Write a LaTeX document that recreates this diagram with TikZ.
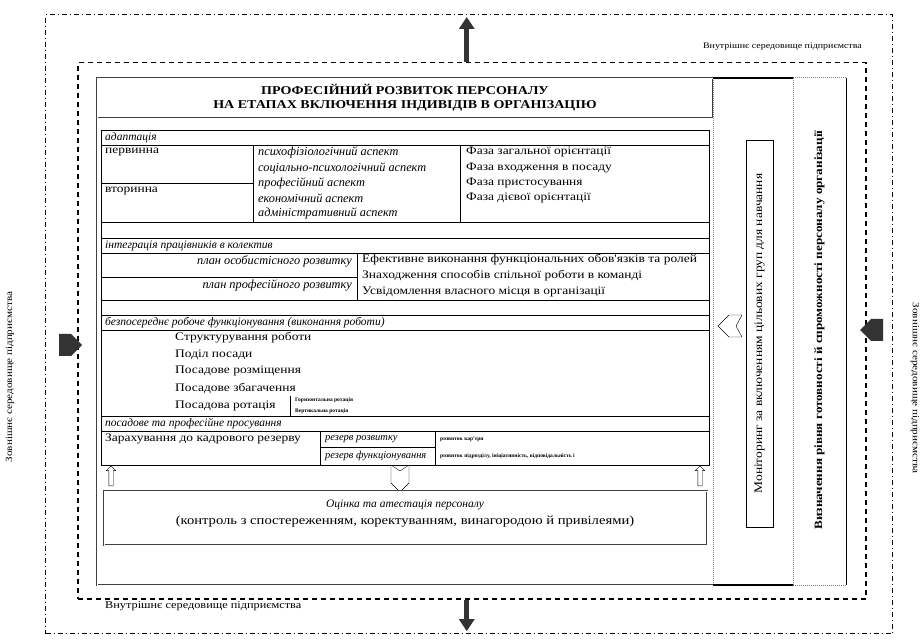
\documentclass[tikz,border=0pt]{standalone}
\usepackage{fontspec}
\setmainfont{Liberation Serif}
\newfontfamily\wide{Liberation Serif}[FakeStretch=1.17]
\usetikzlibrary{arrows.meta,shapes.arrows,shapes.symbols,positioning}

\begin{document}
\begin{tikzpicture}[x=1pt,y=-1pt,
  txt/.style={anchor=west,inner sep=0pt,font=\wide\fontsize{11.5}{14}\selectfont},
  hdr/.style={anchor=west,inner sep=0pt,font=\fontsize{11.5}{14}\selectfont\itshape},
  cellit/.style={hdr,font=\fontsize{12.3}{14}\selectfont\itshape},
  tiny/.style={anchor=west,inner sep=0pt,font=\fontsize{5.5}{7}\selectfont\bfseries},
  lbl/.style={inner sep=0pt,font=\wide\fontsize{9.5}{12}\selectfont},
  frame/.style={draw=black!75,double,double distance=0.9pt,line width=0.5pt},
  bigarr/.style={draw=black!80,line width=5pt,-{Triangle[width=15pt,length=12pt]},shorten >=3pt},
  block/.style={signal,fill=black!80,minimum width=23pt,minimum height=22pt,inner sep=0pt},
  hollow/.style={single arrow,draw,fill=white,shape border rotate=90,minimum height=20pt,
    single arrow head extend=2.5pt,inner sep=2pt},
  notch/.style={draw,fill=white}]
  \useasboundingbox (0,0) rectangle (924,644);

  \node[draw,line width=1.2pt,dash pattern=on 5pt off 3pt on 1pt off 3pt,minimum width=847pt,minimum height=619pt,anchor=north west] at (45,14) (outer) {};
  \node[draw,line width=1.5pt,dash pattern=on 5pt off 4pt,minimum width=788pt,minimum height=536pt,anchor=north west] at (77,62) (inner) {};
  \node[lbl,anchor=east,font=\wide\fontsize{8.5}{10}\selectfont] at (862,47) (tin) {Внутрішнє середовище підприємства};
  \node[lbl,anchor=west,font=\wide\fontsize{10.5}{12}\selectfont] at (105,606) (bin) {Внутрішнє середовище підприємства};
  \node[lbl,rotate=90] at (10,377) (lout) {Зовнішнє середовище підприємства};
  \node[lbl,rotate=-90] at (915,388) (rout) {Зовнішнє середовище підприємства};
  \draw[bigarr] ([xshift=-5pt]inner.north) -- ([xshift=-5pt]inner.north |- outer.north);
  \draw[bigarr] ([xshift=-5pt]inner.south) -- ([xshift=-5pt]inner.south |- outer.south);
  \node[block,signal to=east] at (65,345) (larr) {};
  \node[block,signal to=west] at (877,330) (rarr) {};

  \draw[frame] (713,78) -- (97,78) -- (97,585) -- (713,585);
  \node[frame,minimum width=616pt,minimum height=40pt,align=center,font=\wide\fontsize{12}{14}\selectfont\bfseries] at (405,98) (title) {ПРОФЕСІЙНИЙ РОЗВИТОК ПЕРСОНАЛУ\\НА ЕТАПАХ ВКЛЮЧЕННЯ ІНДИВІДІВ В ОРГАНІЗАЦІЮ};

  \node[draw,minimum width=608pt,minimum height=335pt,anchor=north west] at (101,130) (tab) {};
  \foreach \y in {145,222,238,253,300,315,330,416,431}
    \draw (101,\y) -- (709,\y);
  \draw (101,183) -- (253,183);
  \draw (253,145) -- (253,222) (460,145) -- (460,222);
  \draw (101,277) -- (357,277) (357,253) -- (357,300);
  \draw (290,396) -- (290,416);
  \draw (320,431) -- (320,465) (435,431) -- (435,465) (320,447) -- (435,447);

  \node[hdr] at (105,137.5) (ad) {адаптація};
  \node[txt] at (105,152) (pv) {первинна};
  \node[txt] at (105,191) (vt) {вторинна};
  \node[cellit] at (258,152) (as1) {психофізіологічний аспект};
  \node[cellit] at (258,168) (as2) {соціально-психологічний аспект};
  \node[cellit] at (258,183) (as3) {професійний аспект};
  \node[cellit] at (258,198) (as4) {економічний аспект};
  \node[cellit] at (258,213) (as5) {адміністративний аспект};
  \node[txt] at (466,152) (f1) {Фаза загальної орієнтації};
  \node[txt] at (466,168) (f2) {Фаза входження в посаду};
  \node[txt] at (466,183) (f3) {Фаза пристосування};
  \node[txt] at (466,198) (f4) {Фаза дієвої орієнтації};

  \node[hdr] at (105,245.5) (in) {інтеграція працівників в колектив};
  \node[cellit,anchor=east] at (352,261) (pl1) {план особистісного розвитку};
  \node[cellit,anchor=east] at (352,285) (pl2) {план професійного розвитку};
  \node[txt] at (362,260) (e1) {Ефективне виконання функціональних обов'язків та ролей};
  \node[txt] at (362,276) (e2) {Знаходження способів спільної роботи в команді};
  \node[txt] at (362,292) (e3) {Усвідомлення власного місця в організації};

  \node[hdr] at (105,322.5) (bf) {безпосереднє робоче функціонування (виконання роботи)};
  \node[txt] at (175,338) (r1) {Структурування роботи};
  \node[txt] at (175,355) (r2) {Поділ посади};
  \node[txt] at (175,371) (r3) {Посадове розміщення};
  \node[txt] at (175,388) (r4) {Посадове збагачення};
  \node[txt] at (175,406) (r5) {Посадова ротація};
  \node[tiny] at (295,400) (h1) {Горизонтальна ротація};
  \node[tiny] at (295,411) (h2) {Вертикальна ротація};

  \node[hdr] at (105,423.5) (ps) {посадове та професійне просування};
  \node[txt] at (105,439) (zr) {Зарахування до кадрового резерву};
  \node[hdr,font=\fontsize{10.5}{12}\selectfont\itshape] at (325,439) (rz1) {резерв розвитку};
  \node[hdr,font=\fontsize{10.5}{12}\selectfont\itshape] at (325,456) (rz2) {резерв функціонування};
  \node[tiny] at (440,439) (k1) {розвиток кар'єри};
  \node[tiny] at (440,456) (k2) {розвиток підрозділу, ініціативність, відповідальність і};

  \node[hollow] at (111,477) (ua1) {};
  \node[hollow] at (700,477) (ua2) {};
  \coordinate (da) at (400,465);
  \draw[notch] (da) ++(-9,0) -- ++(9,6) -- ++(9,-6) -- ++(0,18) -- ++(-9,9) -- ++(-9,-9) -- cycle;

  \node[frame,minimum width=603pt,minimum height=54pt,anchor=north west] at (104,491) (eval) {};
  \node[hdr,anchor=center] at (405,505) (ev1) {Оцінка та атестація персоналу};
  \node[txt,anchor=center,font=\wide\fontsize{12.5}{14}\selectfont] at (405,522) (ev2) {(контроль з спостереженням, коректуванням, винагородою й привілеями)};

  \draw[densely dotted,gray,line width=1pt] (713,78) -- (713,585) (793,78) -- (793,585);
  \draw[line width=2pt] (713,78) -- (793,78) (713,585) -- (793,585);
  \node[draw,rotate=90,minimum width=387pt,minimum height=27pt,inner sep=0pt,font=\wide\fontsize{11.5}{14}\selectfont] at (759.5,333.5) (mon) {Моніторинг за включенням цільових груп для навчання};
  \coordinate (ma) at (742,315);
  \draw[notch] (ma) -- ++(-6,11) -- ++(6,11) -- ++(-13,0) -- ++(-11,-11) -- ++(11,-11) -- cycle;

  \draw[densely dotted,gray,line width=1pt] (793,78) -- (846,78) (793,585) -- (846,585);
  \draw (846,78) -- (846,585);
  \node[rotate=90,inner sep=0pt,font=\wide\fontsize{11.2}{14}\selectfont\bfseries] at (819.5,330) (rv) {Визначення рівня готовності й спроможності персоналу організації};
\end{tikzpicture}
\end{document}
